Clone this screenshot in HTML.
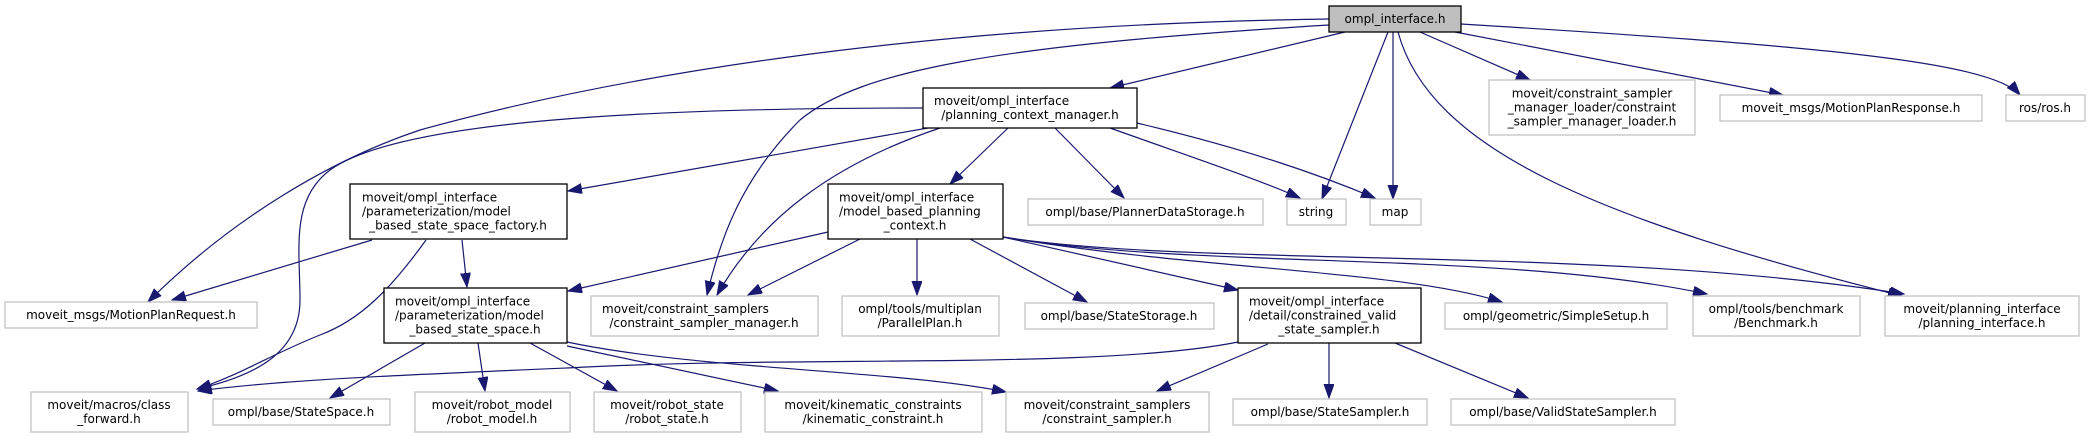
<!DOCTYPE html>
<html><head><meta charset="utf-8"><style>
html,body{margin:0;padding:0;background:#fff;}
svg{display:block;}
text{font-family:"DejaVu Sans","Liberation Sans",sans-serif;font-size:12px;fill:#000;}
.g{fill:#fff;stroke:#bfbfbf;stroke-width:1.2;}
.b{fill:#fff;stroke:#000;stroke-width:1.3;}
.e{fill:none;stroke:#191970;stroke-width:1.2;}
</style></head><body>
<svg width="2091" height="439" viewBox="0 0 2091 439" xmlns="http://www.w3.org/2000/svg">
<defs><marker id="a" markerUnits="userSpaceOnUse" markerWidth="15" markerHeight="11" refX="14" refY="5" orient="auto"><path d="M0,0 L14,5 L0,10 z" fill="#191970" stroke="#191970"/></marker></defs>
<g marker-end="url(#a)">
<path class="e" d="M1345,32 L1110,88"/>
<path class="e" d="M1388,32 L1322,199"/>
<path class="e" d="M1393,32 L1393,199"/>
<path class="e" d="M1420,32 L1530,80"/>
<path class="e" d="M1455,32 L1783,95"/>
<path class="e" d="M1461,24 C1800,45 1990,60 2020,95"/>
<path class="e" d="M1398,32 C1430,150 1600,220 1902,296"/>
<path class="e" d="M1329,19 C900,25 600,80 420,130 C330,160 230,220 148,302"/>
<path class="e" d="M1329,25 C1000,45 860,70 800,120 C740,180 720,240 707,295"/>
<path class="e" d="M923,108 C650,108 400,120 330,170 C290,200 300,250 300,300 C300,350 260,375 197,389"/>
<path class="e" d="M928,128 L568,191"/>
<path class="e" d="M940,128 C830,165 760,220 717,295"/>
<path class="e" d="M1008,128 L950,184"/>
<path class="e" d="M1055,128 L1124,198"/>
<path class="e" d="M1110,128 C1200,160 1260,180 1300,198"/>
<path class="e" d="M1137,123 C1250,150 1320,175 1375,198"/>
<path class="e" d="M372,240 L172,300"/>
<path class="e" d="M426,240 C390,290 360,320 320,335 C270,355 240,375 197,389"/>
<path class="e" d="M462,240 L467,287"/>
<path class="e" d="M828,232 L568,291"/>
<path class="e" d="M860,239 L748,295"/>
<path class="e" d="M917,239 L917,295"/>
<path class="e" d="M970,239 L1087,302"/>
<path class="e" d="M1003,237 L1238,290"/>
<path class="e" d="M1003,237 C1200,270 1400,270 1502,302"/>
<path class="e" d="M1003,237 C1200,270 1500,250 1707,294"/>
<path class="e" d="M1003,237 C1200,268 1600,245 1904,294"/>
<path class="e" d="M425,343 L330,398"/>
<path class="e" d="M478,343 L485,391"/>
<path class="e" d="M530,343 L617,391"/>
<path class="e" d="M567,346 L778,391"/>
<path class="e" d="M567,342 C700,370 900,370 1006,392"/>
<path class="e" d="M1238,342 C1100,370 800,355 567,368 C400,375 280,380 198,391"/>
<path class="e" d="M1268,344 L1157,391"/>
<path class="e" d="M1329,343 L1329,398"/>
<path class="e" d="M1395,343 L1528,398"/>
</g>
<rect x="1329" y="6" width="132" height="26" fill="#bfbfbf" stroke="#000" stroke-width="1.3"/>
<text x="1395" y="23" text-anchor="middle">ompl_interface.h</text>

<rect class="b" x="923" y="88" width="214" height="40"/>
<text x="934" y="105">moveit/ompl_interface</text><text x="1030" y="119" text-anchor="middle">/planning_context_manager.h</text>

<rect class="g" x="1489" y="80" width="206" height="55"/>
<text x="1592" y="97.5" text-anchor="middle">moveit/constraint_sampler</text><text x="1592" y="111.5" text-anchor="middle">_manager_loader/constraint</text><text x="1592" y="125.5" text-anchor="middle">_sampler_manager_loader.h</text>

<rect class="g" x="1720" y="95" width="262" height="26"/><text x="1851" y="112" text-anchor="middle">moveit_msgs/MotionPlanResponse.h</text>
<rect class="g" x="2006" y="95" width="79" height="26"/><text x="2045" y="112" text-anchor="middle">ros/ros.h</text>

<rect class="b" x="350" y="184" width="217" height="55"/>
<text x="362" y="201.5">moveit/ompl_interface</text><text x="362" y="215.5">/parameterization/model</text><text x="458" y="229.5" text-anchor="middle">_based_state_space_factory.h</text>

<rect class="g" x="1028" y="199" width="235" height="26"/><text x="1145" y="216" text-anchor="middle">ompl/base/PlannerDataStorage.h</text>
<rect class="g" x="1287" y="199" width="59" height="26"/><text x="1316" y="216" text-anchor="middle">string</text>
<rect class="g" x="1370" y="199" width="51" height="26"/><text x="1395" y="216" text-anchor="middle">map</text>

<rect class="b" x="828" y="184" width="175" height="55"/>
<text x="839" y="201.5">moveit/ompl_interface</text><text x="839" y="215.5">/model_based_planning</text><text x="915" y="229.5" text-anchor="middle">_context.h</text>

<rect class="g" x="5" y="302" width="252" height="26"/><text x="131" y="319" text-anchor="middle">moveit_msgs/MotionPlanRequest.h</text>

<rect class="b" x="384" y="288" width="183" height="55"/>
<text x="395" y="305.5">moveit/ompl_interface</text><text x="395" y="319.5">/parameterization/model</text><text x="475" y="333.5" text-anchor="middle">_based_state_space.h</text>

<rect class="g" x="591" y="296" width="227" height="40"/>
<text x="602" y="313">moveit/constraint_samplers</text><text x="704" y="327" text-anchor="middle">/constraint_sampler_manager.h</text>

<rect class="g" x="842" y="296" width="157" height="40"/>
<text x="920" y="313" text-anchor="middle">ompl/tools/multiplan</text><text x="920" y="327" text-anchor="middle">/ParallelPlan.h</text>

<rect class="g" x="1025" y="303" width="189" height="26"/><text x="1119" y="320" text-anchor="middle">ompl/base/StateStorage.h</text>

<rect class="b" x="1238" y="288" width="183" height="55"/>
<text x="1249" y="305.5">moveit/ompl_interface</text><text x="1249" y="319.5">/detail/constrained_valid</text><text x="1329" y="333.5" text-anchor="middle">_state_sampler.h</text>

<rect class="g" x="1445" y="303" width="222" height="26"/><text x="1556" y="320" text-anchor="middle">ompl/geometric/SimpleSetup.h</text>

<rect class="g" x="1693" y="296" width="167" height="40"/>
<text x="1776" y="313" text-anchor="middle">ompl/tools/benchmark</text><text x="1776" y="327" text-anchor="middle">/Benchmark.h</text>

<rect class="g" x="1885" y="296" width="194" height="40"/>
<text x="1982" y="313" text-anchor="middle">moveit/planning_interface</text><text x="1982" y="327" text-anchor="middle">/planning_interface.h</text>

<rect class="g" x="31" y="392" width="157" height="40"/>
<text x="109" y="409" text-anchor="middle">moveit/macros/class</text><text x="109" y="423" text-anchor="middle">_forward.h</text>

<rect class="g" x="213" y="399" width="177" height="26"/><text x="301" y="416" text-anchor="middle">ompl/base/StateSpace.h</text>

<rect class="g" x="415" y="392" width="155" height="40"/>
<text x="492" y="409" text-anchor="middle">moveit/robot_model</text><text x="492" y="423" text-anchor="middle">/robot_model.h</text>

<rect class="g" x="594" y="392" width="147" height="40"/>
<text x="667" y="409" text-anchor="middle">moveit/robot_state</text><text x="667" y="423" text-anchor="middle">/robot_state.h</text>

<rect class="g" x="765" y="392" width="217" height="40"/>
<text x="873" y="409" text-anchor="middle">moveit/kinematic_constraints</text><text x="873" y="423" text-anchor="middle">/kinematic_constraint.h</text>

<rect class="g" x="1006" y="392" width="203" height="40"/>
<text x="1107" y="409" text-anchor="middle">moveit/constraint_samplers</text><text x="1107" y="423" text-anchor="middle">/constraint_sampler.h</text>

<rect class="g" x="1233" y="399" width="194" height="26"/><text x="1330" y="416" text-anchor="middle">ompl/base/StateSampler.h</text>
<rect class="g" x="1451" y="399" width="224" height="26"/><text x="1563" y="416" text-anchor="middle">ompl/base/ValidStateSampler.h</text>
</svg>
</body></html>
